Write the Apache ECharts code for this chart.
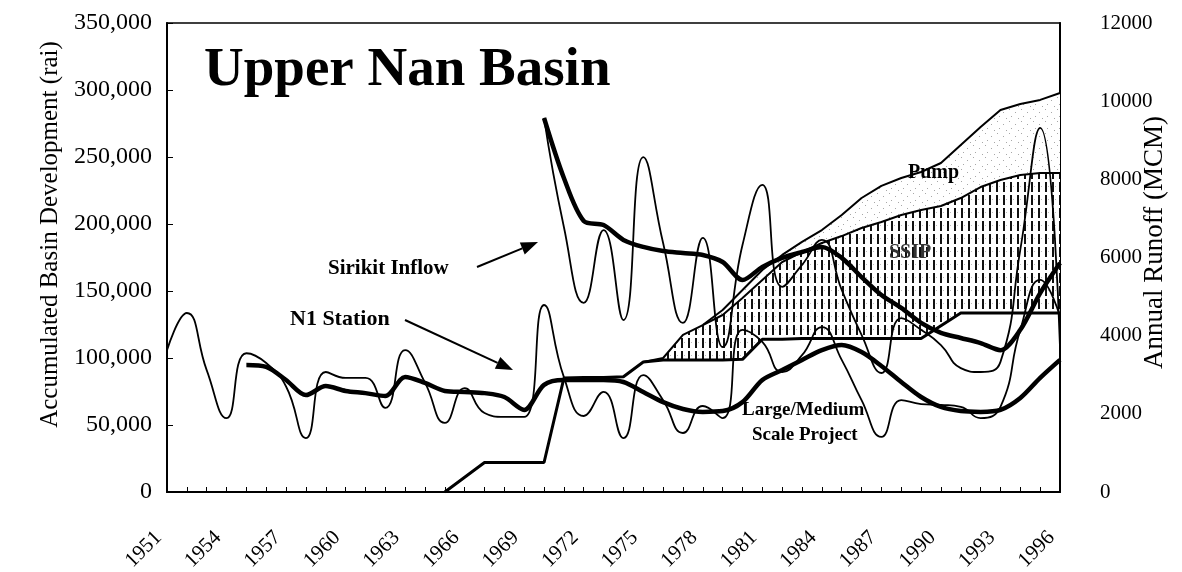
<!DOCTYPE html>
<html><head><meta charset="utf-8">
<script src="https://cdn.jsdelivr.net/npm/echarts@6/dist/echarts.min.js"></script>
<style>html,body{margin:0;padding:0;background:#fff}#c{width:1182px;height:572px}</style>
</head><body><div id="c"></div>
<script>
const years = ['1951','1952','1953','1954','1955','1956','1957','1958','1959','1960',
  '1961','1962','1963','1964','1965','1966','1967','1968','1969','1970',
  '1971','1972','1973','1974','1975','1976','1977','1978','1979','1980',
  '1981','1982','1983','1984','1985','1986','1987','1988','1989','1990',
  '1991','1992','1993','1994','1995','1996'];

// Runoff (MCM), right axis
const n1Runoff = [3630,4580,3120,1890,3550,3300,2700,1380,3070,2920,
  2920,2150,3630,2800,1770,2660,2020,1920,1920,4785,
  2940,1945,2560,1380,2990,2350,1510,2200,1890,4150,
  3840,3070,3500,4220,3380,2350,1410,2350,2250,2230,
  2180,1890,2180,4150,5425,4500];
const n1Avg = [null,null,null,null,3250,3200,2865,2480,2710,2585,
  2530,2455,2940,2790,2585,2560,2530,2430,2100,2740,
  2865,2865,2865,2815,2560,2300,2125,2050,2070,2300,
  2865,3120,3380,3630,3760,3580,3225,2815,2430,2175,
  2070,2050,2100,2405,2920,3380];
const sirikitInflow = [null,null,null,null,null,null,null,null,null,null,
  null,null,null,null,null,null,null,null,null,9570,
  6780,4840,6700,4400,8570,6370,4325,6500,3710,6320,
  7860,5250,5810,6450,5170,4020,3045,4450,4150,3760,
  3170,3070,3330,6200,9315,3710];
const sirikitAvg = [null,null,null,null,null,null,null,null,null,null,
  null,null,null,null,null,null,null,null,null,9570,
  8035,6935,6830,6450,6270,6165,6115,6065,5885,5425,
  5760,5990,6140,6270,5990,5500,5040,4710,4325,4070,
  3940,3810,3630,4150,5090,5860];

// Accumulated basin development (rai), left axis, stacked
const largeMedium = [null,null,null,null,null,null,null,null,null,null,
  null,null,null,null,0,11000,22000,22000,22000,22000,
  85000,85500,85500,86000,97000,98500,98500,98500,98500,99000,
  114000,114000,114500,114500,114500,114500,114500,114500,114500,124000,
  133500,133500,133500,133500,133500,133500];
const ssip = [null,null,null,null,null,null,null,null,null,null,
  null,null,null,null,null,null,null,null,null,null,
  null,null,null,null,0,1500,18700,26100,33600,45800,
  44200,57600,64600,71300,76500,82500,87000,92200,96000,89400,
  85900,94100,99300,103100,104600,104600];
const pump = [null,null,null,null,null,null,null,null,null,null,
  null,null,null,null,null,null,null,null,null,null,
  null,null,null,null,null,null,null,0,3700,5900,
  7500,5300,7500,9700,15700,22400,26900,27600,28300,32100,
  39600,44800,52300,53000,54500,59700];

const leftTicks = [0,50000,100000,150000,200000,250000,300000,350000];
const rightTicks = [0,2000,4000,6000,8000,10000,12000];

const FONT = '"Liberation Serif", "Times New Roman", serif';

function hatchPattern(){
  const c = document.createElement('canvas'); c.width = 7; c.height = 13;
  const g = c.getContext('2d');
  g.fillStyle = '#fff'; g.fillRect(0,0,7,13);
  g.fillStyle = '#111'; g.fillRect(2,0,2,10);
  g.fillStyle = '#bbb'; g.fillRect(5,4,1,1);
  return c;
}
function dotPattern(){
  const c = document.createElement('canvas'); c.width = 12; c.height = 12;
  const g = c.getContext('2d');
  g.fillStyle = '#fff'; g.fillRect(0,0,12,12);
  g.fillStyle = '#a8a8a8';
  g.fillRect(1,1,1,1); g.fillRect(7,4,1,1); g.fillRect(3,8,1,1); g.fillRect(10,10,1,1);
  return c;
}
function arrow(x1,y1,x2,y2){
  const a = Math.atan2(y2-y1, x2-x1), L = 17, W = 6.5;
  const bx = x2 - L*Math.cos(a), by = y2 - L*Math.sin(a);
  return [
    {type:'line', z:100, shape:{x1:x1,y1:y1,x2:bx,y2:by}, style:{stroke:'#000', lineWidth:2}},
    {type:'polygon', z:100, shape:{points:[[x2,y2],[bx - W*Math.sin(a), by + W*Math.cos(a)],[bx + W*Math.sin(a), by - W*Math.cos(a)]]}, style:{fill:'#000'}}
  ];
}
function label(text, x, y, size, fill){
  return {type:'text', z:100, x:x, y:y, style:{text:text, font:'bold '+size+'px '+FONT, fill: fill||'#000', verticalAlign:'middle', align:'left'}};
}

const chart = echarts.init(document.getElementById('c'), null, {renderer:'canvas'});
const thin = {color:'#000', width:1.8};
const thick = {color:'#000', width:4.5};
chart.setOption({
  animation:false,
  backgroundColor:'#fff',
  grid:{left:167, right:122, top:23, bottom:80, outerBoundsMode:'none', containLabel:false,
    show:true, borderColor:'#000', borderWidth:1.5, backgroundColor:'transparent'},
  xAxis:{
    type:'category', data:years, boundaryGap:false,
    axisLine:{lineStyle:{color:'#000', width:2}},
    axisTick:{show:true, inside:true, length:5, interval:0, lineStyle:{color:'#000', width:1}},
    axisLabel:{interval:2, rotate:45, margin:34, padding:[0,12,0,0], color:'#000', fontFamily:FONT, fontSize:21},
    splitLine:{show:false}
  },
  yAxis:[{
    type:'value', min:leftTicks[0], max:leftTicks[leftTicks.length-1], interval:50000,
    name:'Accumulated Basin Development (rai)', nameLocation:'middle', nameGap:104, nameMoveOverlap:false,
    nameTextStyle:{color:'#000', fontFamily:FONT, fontSize:25, padding:[0,0,0,46]},
    axisLine:{show:true, lineStyle:{color:'#000', width:2}},
    axisTick:{show:true, inside:true, length:6, lineStyle:{color:'#000'}},
    axisLabel:{margin:15, color:'#000', fontFamily:FONT, fontSize:24, formatter:v => v.toLocaleString('en-US')},
    splitLine:{show:false}
  },{
    type:'value', min:rightTicks[0], max:rightTicks[rightTicks.length-1], interval:2000, position:'right',
    name:'Annual Runoff (MCM)', nameLocation:'middle', nameGap:81, nameMoveOverlap:false,
    nameTextStyle:{color:'#000', fontFamily:FONT, fontSize:27, padding:[0,0,0,30]},
    axisLine:{show:true, lineStyle:{color:'#000', width:2}},
    axisTick:{show:false},
    axisLabel:{margin:40, color:'#000', fontFamily:FONT, fontSize:21, formatter:v => String(v)},
    splitLine:{show:false}
  }],
  series:[
    {name:'Large/Medium Scale Project', type:'line', yAxisIndex:0, stack:'dev', data:largeMedium, z:4,
      showSymbol:false, lineStyle:{color:'#000', width:3}},
    {name:'SSIP', type:'line', yAxisIndex:0, stack:'dev', data:ssip, z:3,
      showSymbol:false, lineStyle:{color:'#000', width:2},
      areaStyle:{color:{image:hatchPattern(), repeat:'repeat'}, opacity:1}},
    {name:'Pump', type:'line', yAxisIndex:0, stack:'dev', data:pump, z:2,
      showSymbol:false, lineStyle:{color:'#000', width:2},
      areaStyle:{color:{image:dotPattern(), repeat:'repeat'}, opacity:1}},
    {name:'N1 Station', type:'line', yAxisIndex:1, data:n1Runoff, z:6, smooth:0.5,
      showSymbol:false, lineStyle:thin},
    {name:'Sirikit Inflow', type:'line', yAxisIndex:1, data:sirikitInflow, z:6, smooth:0.5,
      showSymbol:false, lineStyle:thin},
    {name:'N1 Station average', type:'line', yAxisIndex:1, data:n1Avg, z:7, smooth:0.3,
      showSymbol:false, lineStyle:thick},
    {name:'Sirikit Inflow average', type:'line', yAxisIndex:1, data:sirikitAvg, z:7, smooth:0.3,
      showSymbol:false, lineStyle:thick}
  ],
  graphic:[
    {type:'text', z:100, x:204, y:71, style:{text:'Upper Nan Basin', font:'bold 55px '+FONT, fill:'#000', verticalAlign:'middle', align:'left'}},
    label('Sirikit Inflow', 328, 269, 21),
    label('N1 Station', 290, 319, 22),
    label('Pump', 908, 173, 20),
    label('SSIP', 889, 253, 20, '#333'),
    label('Large/Medium', 742, 410, 19),
    label('Scale Project', 752, 435, 19),
    ...arrow(477,267,538,242),
    ...arrow(405,320,513,370)
  ]
});
</script></body></html>
